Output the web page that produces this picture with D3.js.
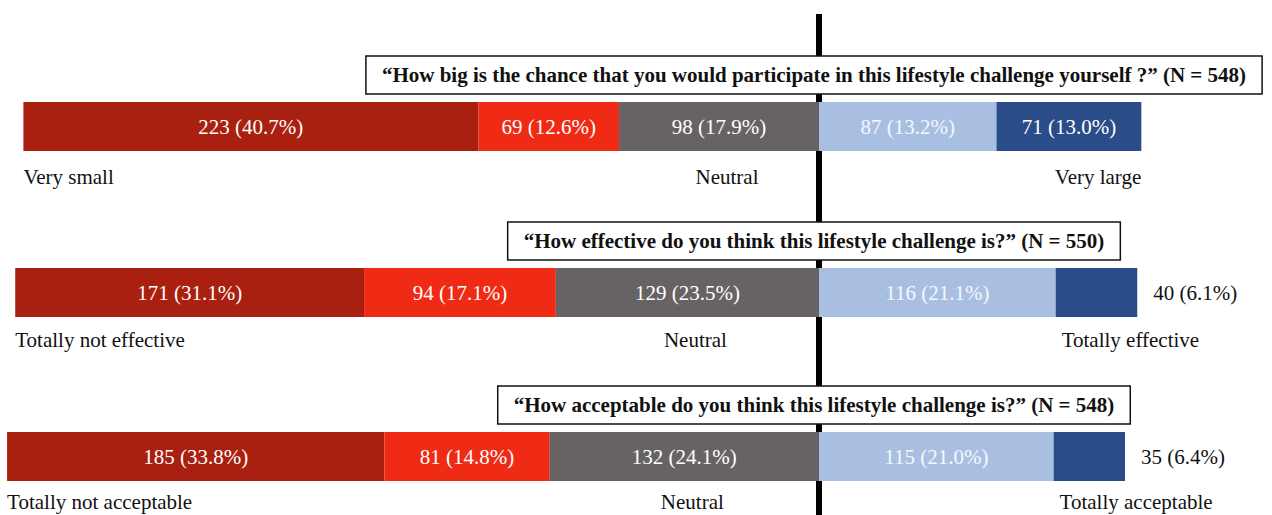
<!DOCTYPE html>
<html>
<head>
<meta charset="utf-8">
<script src="https://cdn.jsdelivr.net/npm/d3@7"></script>
<style>
  body { margin: 0; background: #fff; }
  svg { display: block; }
  text { font-family: "Liberation Serif", "Times New Roman", serif; }
</style>
</head>
<body>
<svg></svg>
<script>
var svgWidth = 1272;
var svgHeight = 515;

// answer categories, left to right
var categories = ['neg2', 'neg1', 'neutral', 'pos1', 'pos2'];
var colors = ['#a91f10', '#ef2b15', '#676364', '#a9bfe2', '#2a4c88'];

var questions = [
	'\u201cHow big is the chance that you would participate in this lifestyle challenge yourself ?\u201d (N = 548)',
	'\u201cHow effective do you think this lifestyle challenge is?\u201d (N = 550)',
	'\u201cHow acceptable do you think this lifestyle challenge is?\u201d (N = 548)'
];
var counts = [
	[223, 69, 98, 87, 71],
	[171, 94, 129, 116, 40],
	[185, 81, 132, 115, 35]
];
var percents = [
	['40.7', '12.6', '17.9', '13.2', '13.0'],
	['31.1', '17.1', '23.5', '21.1', '6.1'],
	['33.8', '14.8', '24.1', '21.0', '6.4']
];
var lowLabels = ['Very small', 'Totally not effective', 'Totally not acceptable'];
var highLabels = ['Very large', 'Totally effective', 'Totally acceptable'];

var svg = d3.select('svg')
	.attr('width', svgWidth)
	.attr('height', svgHeight);

// zero sits where "neutral" ends and the positive answers begin
var xScale = d3.scaleLinear()
	.domain([-400, 200])
	.range([819 - 400 * 2.04, 819 + 200 * 2.04]);

// bars are ~49px tall at 102, 268, 432
var barTops = [102, 268, 432];
var barH = 49;
var labelDy = [82, 79, 77];

svg.append('line')
	.attr('x1', xScale(0)).attr('x2', xScale(0))
	.attr('y1', 14).attr('y2', svgHeight)
	.attr('stroke', '#000')
	.attr('stroke-width', 6);

var rows = questions.map(function(q, i) {
	var negTotal = counts[i][0] + counts[i][1] + counts[i][2];
	var start = -negTotal;
	var segs = counts[i].map(function(c, j) {
		var s = { row: i, cat: j, x0: start, x1: start + c, n: c, pct: percents[i][j] };
		start += c;
		return s;
	});
	return { q: q, segs: segs };
});

var rowG = svg.selectAll('g.row')
	.data(rows)
	.enter()
	.append('g')
	.attr('class', 'row')
	.attr('transform', (d, i) => `translate(0,${barTops[i]})`);

rowG.selectAll('rect')
	.data(d => d.segs)
	.enter()
	.append('rect')
	.attr('x', d => xScale(d.x0))
	.attr('width', d => xScale(d.x1) - xScale(d.x0))
	.attr('y', 0)
	.attr('height', barH)
	.attr('fill', d => colors[d.cat]);

// segment value labels; narrow last segments get the label outside
rowG.selectAll('text.val')
	.data(d => d.segs)
	.enter()
	.append('text')
	.attr('class', 'val')
	.attr('font-size', 21)
	.attr('y', barH / 2 + 7)
	.each(function(d) {
		var inside = (xScale(d.x1) - xScale(d.x0)) > 120;
		d3.select(this)
			.attr('x', inside ? (xScale(d.x0) + xScale(d.x1)) / 2 : xScale(d.x1) + 16)
			.attr('text-anchor', inside ? 'middle' : 'start')
			.attr('fill', inside ? (d.cat == 3 ? '#f4f7fc' : '#fff') : '#111');
	})
	.text(d => `${d.n} (${d.pct}%)`);

// end-point labels under the bars
rowG.append('text')
	.attr('font-size', 21)
	.attr('x', d => xScale(d.segs[0].x0))
	.attr('y', (d, i) => labelDy[i])
	.attr('fill', '#111')
	.text((d, i) => lowLabels[i]);

rowG.append('text')
	.attr('font-size', 21)
	.attr('text-anchor', 'middle')
	.attr('x', d => (xScale(d.segs[2].x0) + xScale(d.segs[2].x1)) / 2 + 8)
	.attr('y', (d, i) => labelDy[i])
	.attr('fill', '#111')
	.text('Neutral');

rowG.append('text')
	.attr('font-size', 21)
	.attr('x', (d, i) => i == 0 ? xScale(d.segs[4].x1) : xScale(d.segs[4].x0) + 6)
	.attr('text-anchor', (d, i) => i == 0 ? 'end' : 'start')
	.attr('y', (d, i) => labelDy[i])
	.attr('fill', '#111')
	.text((d, i) => highLabels[i]);

// question boxes, centred a little left of the zero line
var boxCenter = 814;
var boxH = 38;
rowG.each(function(d, i) {
	var g = d3.select(this);
	var box = g.append('rect')
		.attr('fill', '#fff')
		.attr('stroke', '#111')
		.attr('stroke-width', 1.5);
	var t = g.append('text')
		.attr('font-size', 21)
		.attr('font-weight', 'bold')
		.attr('text-anchor', 'middle')
		.attr('x', boxCenter)
		.attr('y', -boxH / 2 - 8 + 7)
		.attr('fill', '#111')
		.text(d.q);
	var w = t.node().getComputedTextLength() + 32;
	box.attr('x', boxCenter - w / 2)
		.attr('y', -boxH - 8)
		.attr('width', w)
		.attr('height', boxH);
});
</script>
</body>
</html>
